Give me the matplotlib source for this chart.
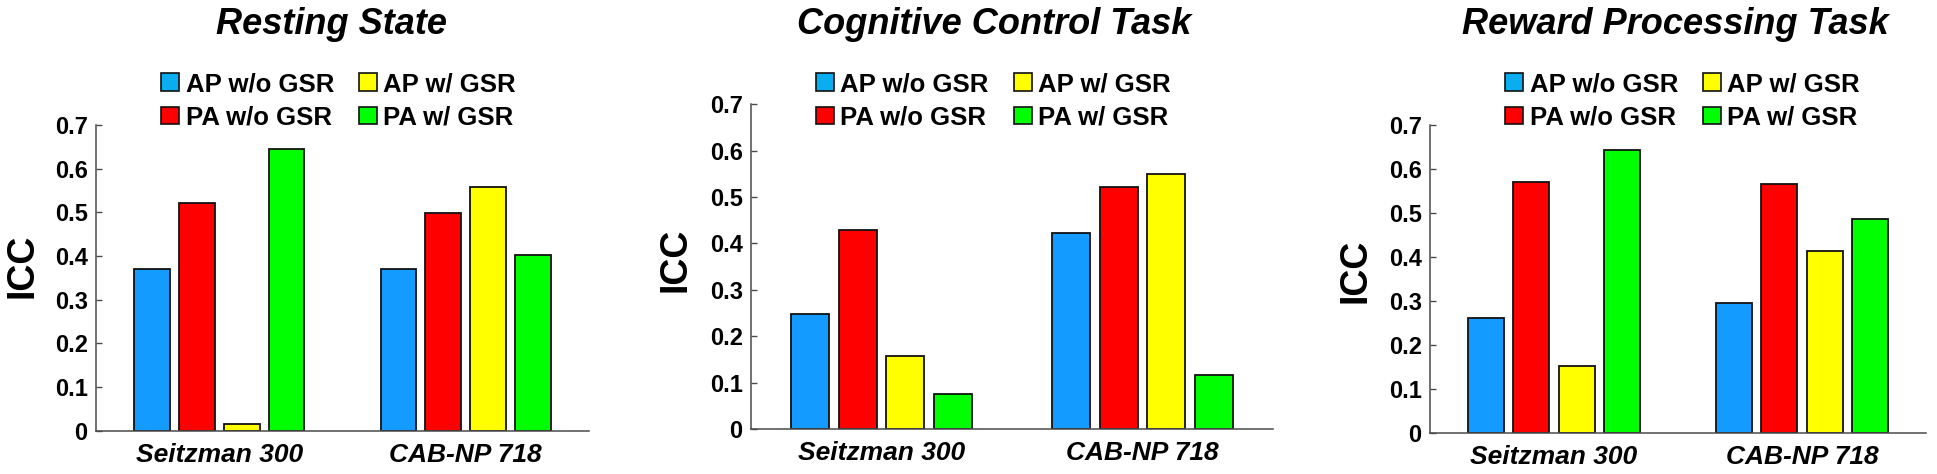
import matplotlib
matplotlib.use("Agg")
import matplotlib.pyplot as plt
import numpy as np

plt.rcParams['font.family'] = ['Liberation Sans', 'DejaVu Sans']
plt.rcParams['font.weight'] = 'bold'

# ---------------- data ----------------
conditions = ["Resting State", "Cognitive Control Task", "Reward Processing Task"]
atlases = ["Seitzman 300", "CAB-NP 718"]
series_labels = ["AP w/o GSR", "PA w/o GSR", "AP w/ GSR", "PA w/ GSR"]
# one row per condition, values for [Seitzman 300, CAB-NP 718]
ap_wo_gsr = [[0.370, 0.370], [0.247, 0.423], [0.261, 0.295]]
pa_wo_gsr = [[0.522, 0.498], [0.429, 0.521], [0.570, 0.566]]
ap_w_gsr = [[0.015, 0.557], [0.157, 0.550], [0.152, 0.414]]
pa_w_gsr = [[0.646, 0.402], [0.076, 0.116], [0.642, 0.487]]
yticks = [0, 0.1, 0.2, 0.3, 0.4, 0.5, 0.6, 0.7]
ytick_labels = ["0", "0.1", "0.2", "0.3", "0.4", "0.5", "0.6", "0.7"]

# ---------------- style ----------------
colors = ["#149BFF", "#FF0000", "#FFFF00", "#00FF00"]
legend_colors = ["#0AAEF0", "#FF0000", "#FFFF00", "#00FF00"]
spine_color = "#4a4a4a"

W, H = 1937, 474
fig = plt.figure(figsize=(W / 100, H / 100), dpi=100)

def px_rect(left, right, bottom, top):
    return [left / W, (H - bottom) / H, (right - left) / W, (bottom - top) / H]

# axes boxes in pixels: left, right, bottom (y=0), top (y=0.7)
axes_px = [(96, 589, 430.7, 125), (751, 1273, 429, 104.3), (1430, 1926, 432.7, 125)]
title_x = [331, 994, 1675]
ylabel_pos = [(22.5, 266), (675, 260), (1356, 271)]
legend_left = [161, 816, 1505]

series = [ap_wo_gsr, pa_wo_gsr, ap_w_gsr, pa_w_gsr]
nser = len(series)
group_w = min(0.8, nser / (nser + 1.5))
spacing = group_w / nser
bar_w = 0.8 * spacing
xg = np.arange(1, len(atlases) + 1)

for p, cond in enumerate(conditions):
    l, r, b, t = axes_px[p]
    ax = fig.add_axes(px_rect(l, r, b, t))
    handles = []
    for i, s in enumerate(series):
        off = (i - (nser - 1) / 2) * spacing
        bars = ax.bar(xg + off, s[p], width=bar_w, color=colors[i],
                      edgecolor="#111111", linewidth=1.3, label=series_labels[i],
                      zorder=2)
        handles.append(bars)
    ax.set_xlim(0.5, 2.5)
    ax.set_ylim(0, 0.7)
    ax.set_yticks(yticks)
    ax.set_yticklabels(ytick_labels, fontsize=17, fontweight='bold')
    ax.set_xticks(xg)
    ax.set_xticklabels(atlases, fontsize=19, fontweight='bold', style='italic')
    ax.tick_params(axis='x', length=0, pad=9)
    ax.tick_params(axis='y', direction='in', length=4, width=1, color=spine_color, pad=6)
    for sp in ['top', 'right']:
        ax.spines[sp].set_visible(False)
    for sp in ['left', 'bottom']:
        ax.spines[sp].set_color(spine_color)
        ax.spines[sp].set_linewidth(1.1)
        ax.spines[sp].set_zorder(3)

    fig.text(title_x[p] / W, (H - 34) / H, cond, ha='center', va='baseline',
             fontsize=26, fontweight='bold', style='italic')
    yx, yy = ylabel_pos[p]
    fig.text(yx / W, (H - yy) / H, "ICC", rotation=90, ha='center', va='center',
             fontsize=27, fontweight='bold')

    fs = 18.5
    fpx = fs * 100 / 72
    leg = ax.legend(handles=handles, labels=series_labels, ncol=2,
                    loc='upper left', bbox_to_anchor=(legend_left[p] / W, (H - 72) / H),
                    bbox_transform=fig.transFigure, frameon=False,
                    prop={'size': fs, 'weight': 'bold'},
                    handlelength=18 / fpx, handleheight=17 / fpx, handletextpad=6.5 / fpx,
                    columnspacing=25 / fpx, labelspacing=0.36, borderpad=0, borderaxespad=0)
    for h, c in zip(leg.legend_handles, legend_colors):
        h.set_facecolor(c)
        h.set_edgecolor("#111111")
        h.set_linewidth(1.2)

fig.savefig("out.png", dpi=100)
